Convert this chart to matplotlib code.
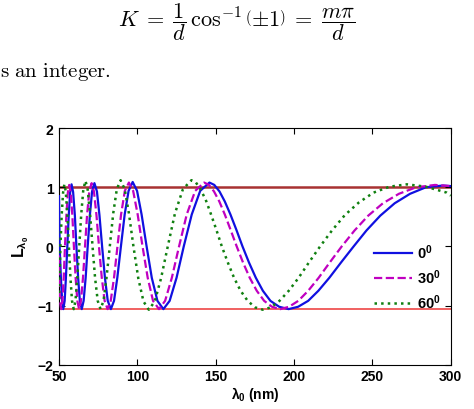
import matplotlib
matplotlib.use("Agg")
import matplotlib.pyplot as plt

plt.rcParams['font.family'] = 'Liberation Sans'
plt.rcParams['font.weight'] = 'bold'
plt.rcParams['mathtext.fontset'] = 'custom'
plt.rcParams['mathtext.rm'] = 'Liberation Sans:bold'
plt.rcParams['mathtext.it'] = 'Liberation Sans:bold'
plt.rcParams['mathtext.bf'] = 'Liberation Sans:bold'

# wavelength (nm) and L values, one pair of lists per angle
lam_0 = [50.0, 50.4, 51.2, 52.0, 52.7, 53.6, 54.4, 55.3, 56.2, 57.1, 58.0, 59.0, 60.1, 61.1,
         62.2, 63.3, 64.5, 65.7, 67.0, 68.3, 69.7, 71.1, 72.6, 74.2, 75.8, 77.5, 79.3, 81.1,
         83.1, 85.1, 87.2, 89.5, 91.9, 94.4, 97.0, 99.8, 102.7, 105.9, 109.2, 112.8, 116.6,
         120.6, 125.0, 129.6, 134.7, 140.1, 146.0, 149.1, 152.4, 155.8, 159.4, 163.2, 167.1,
         171.2, 175.6, 180.1, 184.9, 190.5, 196.5, 202.6, 209.0, 215.5, 222.5, 230.0, 238.0,
         246.2, 255.0, 264.2, 274.0, 284.1, 295.0, 300.0]
L_0 = [0.85, 0.0, -0.53, -0.92, -1.06, -0.92, -0.53, 0.0, 0.52, 0.91, 1.05, 0.92, 0.53, 0.0,
       -0.53, -0.92, -1.06, -0.92, -0.53, 0.0, 0.53, 0.93, 1.07, 0.93, 0.53, 0.0, -0.53, -0.92,
       -1.06, -0.92, -0.53, 0.0, 0.54, 0.94, 1.09, 0.94, 0.54, 0.0, -0.53, -0.92, -1.06,
       -0.92, -0.53, 0.0, 0.54, 0.94, 1.08, 1.04, 0.93, 0.76, 0.54, 0.28, 0.0,
       -0.27, -0.53, -0.75, -0.92, -1.02, -1.06, -1.02, -0.92, -0.75, -0.53, -0.27, 0.0,
       0.27, 0.52, 0.73, 0.89, 1.0, 1.03, 1.02]

lam_30 = [50.0, 50.6, 51.4, 52.2, 53.0, 53.8, 54.7, 55.6, 56.5, 57.5, 58.5, 59.5, 60.6, 61.7,
          62.8, 64.0, 65.3, 66.6, 67.9, 69.3, 70.8, 72.3, 73.9, 75.5, 77.3, 79.1, 81.0, 83.0,
          85.1, 87.3, 89.6, 92.0, 94.6, 97.3, 100.2, 103.3, 106.6, 110.0, 113.8, 117.7, 122.0,
          126.6, 131.5, 136.9, 142.6, 145.7, 148.9, 152.3, 155.8, 159.5, 163.4, 167.4, 171.7,
          176.2, 180.9, 185.9, 191.2, 196.8, 202.7, 209.0, 215.7, 222.8, 230.4, 238.6, 247.3,
          256.7, 266.9, 277.9, 289.9, 300.0]
L_30 = [-0.15, -0.92, -1.06, -0.92, -0.53, 0.0, 0.52, 0.9, 1.04, 0.91, 0.53, 0.0, -0.53, -0.92,
        -1.06, -0.92, -0.53, 0.0, 0.53, 0.93, 1.07, 0.93, 0.53, 0.0, -0.53, -0.92, -1.06, -0.92,
        -0.53, 0.0, 0.54, 0.94, 1.08, 0.94, 0.54, 0.0, -0.53, -0.92, -1.06, -0.92, -0.53,
        0.0, 0.54, 0.94, 1.08, 1.04, 0.93, 0.76, 0.54, 0.28, 0.0, -0.27, -0.53,
        -0.75, -0.92, -1.02, -1.06, -1.02, -0.92, -0.75, -0.53, -0.27, 0.0, 0.27, 0.52,
        0.73, 0.89, 1.0, 1.04, 1.02]

lam_60 = [50.0, 50.9, 51.7, 52.6, 53.4, 54.3, 55.3, 56.3, 57.3, 58.3, 59.4, 60.5, 61.7, 62.9,
          64.2, 65.5, 66.9, 68.3, 69.8, 71.4, 73.0, 74.7, 76.5, 78.4, 80.3, 82.4, 84.6, 86.9,
          89.3, 91.9, 94.6, 97.5, 100.6, 103.9, 107.3, 111.1, 115.1, 119.4, 124.0, 129.1, 134.5,
          137.4, 140.4, 143.6, 146.9, 150.3, 153.9, 157.7, 161.7, 165.9, 170.4, 175.1, 180.0,
          185.2, 190.7, 196.6, 202.9, 209.5, 216.6, 224.2, 232.4, 241.2, 250.7, 260.9, 272.0,
          284.1, 297.4, 300.0]
L_60 = [-0.9, 0.0, 0.53, 0.91, 1.05, 0.93, 0.55, 0.0, -0.53, -0.92, -1.06, -0.92, -0.53, 0.0,
        0.55, 0.96, 1.11, 0.96, 0.55, 0.0, -0.53, -0.92, -1.06, -0.92, -0.53, 0.0, 0.56, 0.97,
        1.12, 0.97, 0.56, 0.0, -0.54, -0.93, -1.07, -0.93, -0.54, 0.0, 0.56, 0.97, 1.12,
        1.08, 0.96, 0.79, 0.55, 0.29, 0.0, -0.27, -0.53, -0.75, -0.92, -1.03, -1.07,
        -1.03, -0.92, -0.75, -0.53, -0.27, 0.0, 0.27, 0.53, 0.74, 0.91, 1.01, 1.05,
        1.01, 0.91, 0.86]

upper_band = 1.0
lower_band = -1.06

labels = [r'$0^0$', r'$30^0$', r'$60^0$']

fig = plt.figure(figsize=(4.74, 4.10), dpi=100)

# bits of the page text around the figure (LaTeX look)
fig.text(0.5, 1 - 26 / 410,
         r'$K \;=\; \dfrac{1}{d}\,\cos^{-1}\left(\pm 1\right) \;=\; \dfrac{m\pi}{d}$',
         ha='center', va='baseline', fontsize=16, math_fontfamily='cm')
fig.text(0.0, 1 - 77 / 410, r'$\mathrm{s\ an\ integer.}$', ha='left', va='baseline',
         fontsize=15, math_fontfamily='cm')

ax = fig.add_axes([0.1245, 0.108, 0.8265, 0.577])

ax.axhline(upper_band, color='#a83232', lw=1.8, zorder=1)
ax.axhline(lower_band, color='#f06060', lw=1.4, zorder=1)

ax.plot(lam_0, L_0, '-', color='#1010e0', lw=1.6, label=labels[0], zorder=3)
ax.plot(lam_30, L_30, '--', color='#c000c0', lw=1.6, label=labels[1], zorder=3)
ax.plot(lam_60, L_60, ':', color='#108010', lw=1.8, label=labels[2], zorder=3)

ax.set_xlim(50, 300)
ax.set_ylim(-2, 2)
ax.set_xticks([50, 100, 150, 200, 250, 300])
ax.set_yticks([-2, -1, 0, 1, 2])
ax.tick_params(direction='in', top=True, right=True, length=4, labelsize=10)
ax.tick_params(axis='x', pad=3)
ax.tick_params(axis='y', pad=4)
for lab in ax.get_xticklabels() + ax.get_yticklabels():
    lab.set_fontweight('bold')

ax.set_xlabel(r'$\lambda_0$ (nm)', fontsize=10, fontweight='bold', labelpad=1)
ax.set_ylabel(r'$L_{\lambda_0}$', fontsize=11.5, fontweight='bold', labelpad=5)

leg = ax.legend(loc='upper left', bbox_to_anchor=(0.805, 0.518), frameon=False,
                fontsize=10.5, handlelength=2.6, handletextpad=0.3, labelspacing=0.45,
                borderpad=0, borderaxespad=0)

fig.savefig('out.png', dpi=100)
